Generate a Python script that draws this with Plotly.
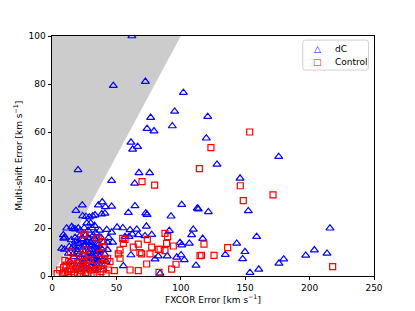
import plotly.graph_objects as go

# ---- data: dC (blue triangles) ----
dc_x = [62, 47.6, 72.5, 102, 95.2, 76.6, 93.4, 73.8, 79.2, 61.3, 66.5, 62.6,
        120.9, 119.8, 128.1, 176, 146, 20.2, 46.3, 67.5, 75.8, 64.2,
        23.5, 18.6, 36, 39, 41.5, 46.3, 23.8, 26.4, 29, 31.6, 33.4, 38.6, 41.1,
        59.3, 64.4, 72.8, 73.8, 100.7, 112.8, 113.6, 121.4, 152.4, 92.4,
        42.5, 46.3, 50.5, 55, 60.6, 65.8, 73.3, 56.7, 59.8, 62.3, 67, 72.2, 77.4, 43.2, 47.1,
        91.1, 109.7, 108.4, 117, 99.4, 100.7, 106.6,
        143.4, 149.8, 134.6, 148, 111.8, 153.7, 160.5, 176.2, 179.9, 197, 203.7, 213.5, 215.8, 158.9,
        89.5, 96.8, 100.2, 102.7, 83.9, 82.5, 80, 61.3, 55.4,
        18, 20, 22, 24, 26, 28, 30, 32, 34, 36, 38, 40,
        19, 21, 23, 25, 27, 29, 31, 33, 35, 37, 39, 41,
        20, 22, 24, 26, 28, 30, 32, 34, 36, 17, 16, 15,
        22, 25, 28, 31, 34, 37, 27, 30, 33, 43, 44, 42,
        25, 29, 33, 19, 14, 26, 29, 24, 35, 38, 31, 27,
        21, 23, 25, 27, 29, 31, 33, 35, 37, 22, 26, 30, 34, 24, 28, 32, 36, 20, 39, 18,
        11.4, 15.3, 17.9, 20.4, 8.8, 10.1, 7.5, 9.6, 13.4, 15.3, 12.7, 16.5, 9.1, 16.5]
dc_y = [100, 79.3, 81, 76.4, 68.6, 66, 62.5, 61.4, 60.4, 55.7, 53.9, 52.8,
        66.4, 57.4, 46.5, 49.7, 40.7, 44.2, 39.7, 43, 43, 38.6,
        29.5, 27.2, 29.5, 30.8, 28.8, 29, 25, 24.7, 24.5, 25, 25.4, 25.8, 26.1,
        26.4, 29.2, 26.2, 25.6, 29.7, 28.2, 27.9, 26.7, 27.1, 24.9,
        19.3, 18.2, 20.3, 20, 19.2, 19.4, 20.7, 16.4, 16.4, 17.4, 17.1, 16.7, 17.2, 13.9, 14,
        18.9, 19.4, 17.1, 15.6, 13.9, 12.9, 13.6,
        13.6, 10.1, 8.9, 7.1, 4.4, 1.4, 2.8, 5.3, 7, 8.6, 10.8, 9.4, 19.9, 16.4,
        8.3, 7.8, 8.75, 6.7, 1.1, 8.3, 7, 8.75, 4.2,
        16, 14, 17, 15, 13, 16, 14, 17, 15, 13, 16, 14,
        11, 9, 12, 10, 8, 11, 9, 12, 10, 8, 11, 9,
        6, 5, 7, 5, 6, 4, 7, 5, 6, 8, 12, 15,
        19, 20, 19, 20, 18, 19, 22, 22, 21, 11, 16, 6,
        3, 3, 3, 4, 6, 17, 13, 9, 7, 4, 11, 14,
        13.5, 15.5, 12.5, 14.5, 9.5, 12.5, 15.5, 13.5, 10.5, 8, 7, 7.5, 8.5, 4.5, 10, 5.5, 11, 10, 6.5, 14.5,
        19.9, 20.5, 19.5, 19.9, 17.1, 16.1, 11.5, 11.1, 12.2, 11.5, 9.4, 9.2, 15.7, 19.7]

# ---- data: Control (red squares) ----
ctl_x = [69.9, 79.7, 153.5, 123.4, 114.4, 146.2, 171.6, 148.5, 118, 136.4, 116, 125.8, 217.9,
         87.7, 89.8, 89, 94.2, 87.7, 96.3, 92.9,
         74, 67, 56.7, 55.4, 63.1, 77.4, 83.9, 68.3, 69.6, 76.1, 51.5, 52.8, 43.2, 45,
         73.5, 67, 60.6, 48.4, 83.1,
         25.6, 14.5, 24.3, 26.4, 35.9, 38.6, 39.8, 37.3, 41.1, 38.6, 24.3, 27.4, 29.5,
         34.7, 24.3, 23.8, 54.9, 52.8, 82.5, 114.9,
         4, 6, 8, 9, 10, 11, 12, 13, 14, 15, 16, 17, 18, 19, 20, 21, 22, 23,
         24, 26, 27, 28, 30, 31, 32, 34, 35, 36, 38, 40, 42, 44, 13, 17, 10, 20]
ctl_y = [39.3, 37.9, 60, 53.5, 44.7, 37.6, 33.8, 31.4, 13.3, 11.8, 8.6, 8.6, 3.9,
         17.8, 16.4, 13.6, 12.5, 10.6, 4.9, 2.9,
         15.3, 13.3, 15.3, 13.6, 12, 12, 11.1, 9.7, 9.2, 9.2, 9.2, 7.4, 7.4, 6,
         5, 2.2, 2.5, 2.2, 1.5,
         17.4, 10.1, 9.7, 10.8, 15.7, 14.3, 12.2, 9.4, 6.7, 5.3, 6, 6.4, 6.7,
         15.7, 17.1, 8.3, 15.7, 10.8, 11.1, 8.5,
         1, 2.5, 0.8, 3.5, 1.5, 4.5, 2, 0.5, 3, 1.8, 5, 0.9, 2.8, 4, 1.2, 3.2, 0.6, 2.2,
         4.5, 1.5, 3, 0.8, 2.5, 4.2, 1, 2.8, 0.7, 4, 1.8, 3, 1, 2.5, 6, 7, 6.5, 5.5]

series_names = ["dC", "Control"]
series_colors = ["blue", "red"]
series_glyphs = ["△", "□"]

# shaded region above the one-to-one line
shade_x = [0, 100, 0]
shade_y = [0, 100, 100]

x_ticks = [0, 50, 100, 150, 200, 250]
y_ticks = [0, 20, 40, 60, 80, 100]

FONT = "DejaVu Sans"

fig = go.Figure()
fig.add_trace(go.Scatter(x=shade_x, y=shade_y, fill="toself", mode="none",
                         fillcolor="#cccccc", showlegend=False, hoverinfo="skip"))
fig.add_trace(go.Scatter(x=dc_x, y=dc_y, mode="markers", name=series_names[0],
                         showlegend=False,
                         marker=dict(symbol="triangle-up-open", size=7, color=series_colors[0],
                                     line=dict(width=1.2, color=series_colors[0]))))
fig.add_trace(go.Scatter(x=ctl_x, y=ctl_y, mode="markers", name=series_names[1],
                         showlegend=False,
                         marker=dict(symbol="square-open", size=6, color=series_colors[1],
                                     line=dict(width=1.2, color=series_colors[1]))))

axis_common = dict(showgrid=False, zeroline=False, showline=True, linecolor="black",
                   linewidth=0.8, mirror=True, ticks="outside", ticklen=3.5,
                   tickwidth=0.8, tickcolor="black", automargin=False,
                   tickfont=dict(family=FONT, size=9, color="black"))

# matplotlib-style legend box (paper coordinates)
lx0, lx1, ly0, ly1, r = 0.779, 0.983, 0.858, 0.983, 0.008
ry = r * 322 / 240
legend_path = (f"M {lx0+r},{ly0} L {lx1-r},{ly0} Q {lx1},{ly0} {lx1},{ly0+ry} "
               f"L {lx1},{ly1-ry} Q {lx1},{ly1} {lx1-r},{ly1} L {lx0+r},{ly1} "
               f"Q {lx0},{ly1} {lx0},{ly1-ry} L {lx0},{ly0+ry} Q {lx0},{ly0} {lx0+r},{ly0} Z")
shapes = [dict(type="path", xref="paper", yref="paper", path=legend_path,
               line=dict(color="#d0d0d0", width=1), fillcolor="rgba(255,255,255,0.8)",
               layer="above")]

annotations = []
item_y = [0.946, 0.893]
for name, col, glyph, yy in zip(series_names, series_colors, series_glyphs, item_y):
    annotations.append(dict(x=0.826, y=yy, xref="paper", yref="paper", text=glyph,
                            showarrow=False, xanchor="center", yanchor="middle",
                            font=dict(family=FONT, size=9, color=col)))
    annotations.append(dict(x=0.873, y=yy, xref="paper", yref="paper", text=name,
                            showarrow=False, xanchor="left", yanchor="middle",
                            font=dict(family=FONT, size=9, color="black")))

# y-axis title placed like matplotlib's
annotations.append(dict(x=-0.106, y=0.5, xref="paper", yref="paper",
                        text="Multi-shift Error [km s<sup>−1</sup>]", textangle=-90,
                        showarrow=False, xanchor="center", yanchor="middle",
                        font=dict(family=FONT, size=9, color="black")))

# page body adds an 8px offset, so the figure is sized/margined to compensate
fig.update_layout(
    width=407, height=303,
    margin=dict(l=44, r=41, t=28, b=35),
    paper_bgcolor="white", plot_bgcolor="white",
    font=dict(family=FONT, size=9, color="black"),
    xaxis=dict(range=[0, 250], tickvals=x_ticks,
               title=dict(text="FXCOR Error [km s<sup>−1</sup>]", standoff=4,
                          font=dict(family=FONT, size=9)),
               **axis_common),
    yaxis=dict(range=[0, 100], tickvals=y_ticks, **axis_common),
    shapes=shapes,
    annotations=annotations,
    showlegend=False,
)

fig.write_html("out.html")
